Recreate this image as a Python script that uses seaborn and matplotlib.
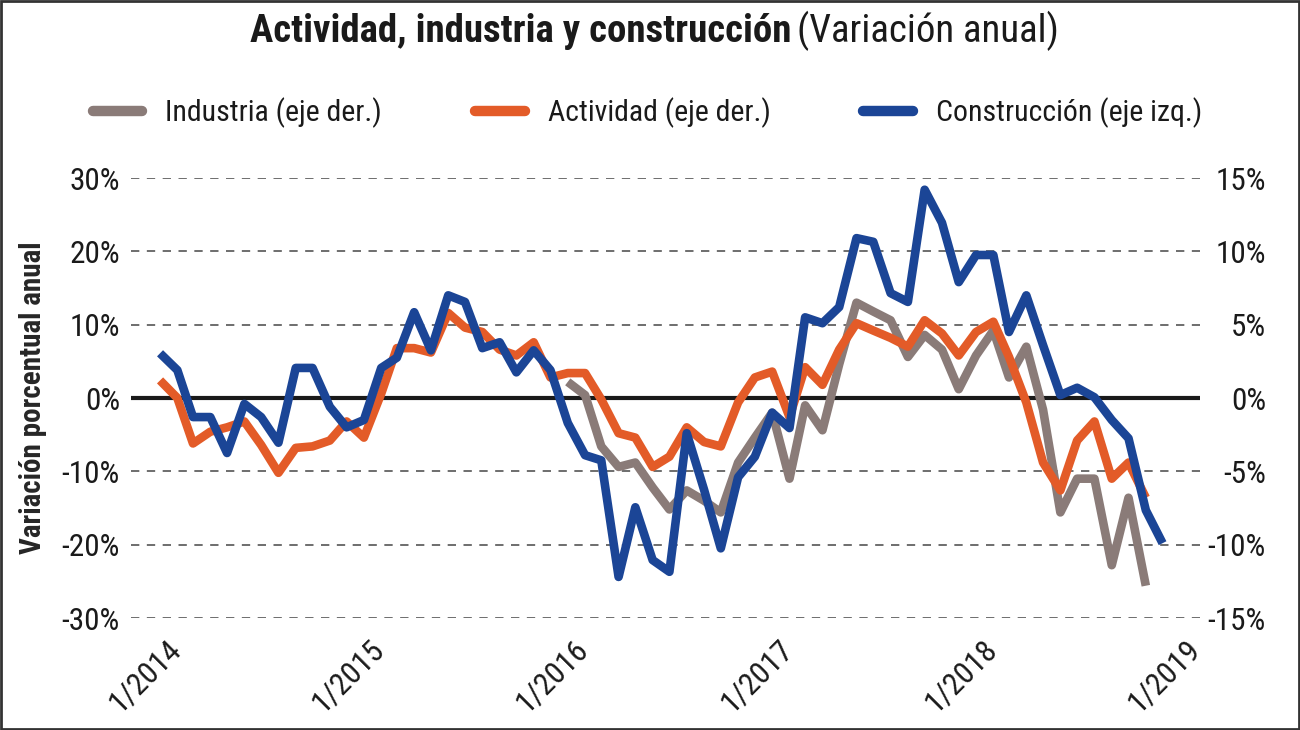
import numpy as np
import pandas as pd
import matplotlib
matplotlib.use("Agg")
import matplotlib.pyplot as plt
import matplotlib.font_manager as fm
from matplotlib.transforms import ScaledTranslation
import seaborn as sns

# ---------------- data ----------------
fechas = pd.date_range("2014-01-01", periods=60, freq="MS")

# Construcción (eje izq., %), Jan 2014 - Dec 2018
construccion = [6.1, 3.8, -2.6, -2.6, -7.5, -0.8, -2.6, -6.1, 4.1, 4.1, -1.2, -4.0,
                -3.0, 4.1, 5.5, 11.7, 6.5, 14.0, 13.1, 6.8, 7.6, 3.5, 6.5, 3.8,
                -3.4, -7.8, -8.5, -24.4, -14.9, -22.1, -23.7, -4.8, -12.5, -20.5, -10.8, -8.0,
                -2.0, -4.1, 11.0, 10.2, 12.4, 21.8, 21.3, 14.3, 13.1, 28.4, 23.9, 15.8,
                19.5, 19.5, 9.0, 14.0, 7.2, 0.4, 1.4, 0.1, -3.0, -5.5, -15.3, -19.8]

# Actividad (eje der., %), Jan 2014 - Nov 2018
actividad = [1.2, 0.0, -3.1, -2.3, -2.0, -1.6, -3.2, -5.1, -3.4, -3.3, -2.9, -1.6,
             -2.7, 0.3, 3.4, 3.4, 3.1, 5.8, 4.8, 4.5, 3.3, 2.9, 3.8, 1.4,
             1.7, 1.7, -0.1, -2.4, -2.7, -4.7, -4.0, -2.0, -3.0, -3.3, -0.3, 1.4,
             1.8, -1.3, 2.1, 0.9, 3.3, 5.1, 4.6, 4.1, 3.5, 5.3, 4.4, 2.9,
             4.5, 5.2, 2.8, -0.3, -4.4, -6.3, -2.9, -1.6, -5.5, -4.4, -6.8]

# Industria (eje der., %), Jan 2016 - Nov 2018
industria = [1.1, 0.2, -3.3, -4.7, -4.4, -6.1, -7.6, -6.3, -7.0, -7.8, -4.4, -2.7,
             -1.0, -5.5, -0.5, -2.2, 2.3, 6.5, 5.9, 5.3, 2.8, 4.3, 3.3, 0.6,
             2.9, 4.6, 1.4, 3.5, -0.8, -7.8, -5.5, -5.5, -11.4, -6.8, -12.8]

ticks_izq = [-30, -20, -10, 0, 10, 20, 30]
ticks_der = [-15, -10, -5, 0, 5, 10, 15]
anios = [2014, 2015, 2016, 2017, 2018, 2019]

df_c = pd.DataFrame({"fecha": fechas, "valor": construccion})
df_a = pd.DataFrame({"fecha": fechas[:len(actividad)], "valor": actividad})
df_i = pd.DataFrame({"fecha": fechas[24:24 + len(industria)], "valor": industria})

# ---------------- style ----------------
sns.set_style("white")
names = {f.name for f in fm.fontManager.ttflist}
fam = None
for cand in ["Liberation Sans Narrow", "Roboto Condensed", "Open Sans Condensed"]:
    if cand in names:
        fam = cand
        break
if fam is None:
    fam = "Liberation Sans" if "Liberation Sans" in names else "DejaVu Sans"
plt.rcParams["font.family"] = [fam, "DejaVu Sans"]
TXT = "#1a1a1a"
plt.rcParams["text.color"] = TXT
plt.rcParams["xtick.color"] = TXT
plt.rcParams["ytick.color"] = TXT

C_GRAY = "#8a7b78"
C_ORANGE = "#e35b28"
C_BLUE = "#1b4596"

W, H = 1300, 730
fig = plt.figure(figsize=(13, 7.3), dpi=100)
fig.patch.set_facecolor("white")
ax = fig.add_axes([131 / W, 1 - 618 / H, (1200 - 131) / W, (618 - 178) / H])
ax2 = ax.twinx()
ax.set_zorder(2)
ax2.set_zorder(1)
ax.patch.set_visible(False)
ax2.patch.set_visible(False)

lw = 6.2
kw = dict(solid_joinstyle="round", solid_capstyle="butt")
sns.lineplot(data=df_i, x="fecha", y="valor", ax=ax2, color=C_GRAY, lw=lw,
             label="Industria (eje der.)", **kw)
sns.lineplot(data=df_a, x="fecha", y="valor", ax=ax2, color=C_ORANGE, lw=lw,
             label="Actividad (eje der.)", **kw)
sns.lineplot(data=df_c, x="fecha", y="valor", ax=ax, color=C_BLUE, lw=lw,
             label="Construcción (eje izq.)", **kw)

h2, l2 = ax2.get_legend_handles_labels()
h1, l1 = ax.get_legend_handles_labels()
for a in (ax, ax2):
    if a.get_legend() is not None:
        a.get_legend().remove()

# axes limits
x0 = pd.Timestamp("2014-01-01") - pd.Timedelta(days=52)
x1 = pd.Timestamp("2019-01-01") + pd.Timedelta(days=36)
ax.set_xlim(x0, x1)
ax.set_ylim(-30, 30)
ax2.set_ylim(-15, 15)

# grid + zero line on the back axis
ax2.set_yticks(ticks_der)
ax2.yaxis.grid(True, linestyle=(0, (5, 4.5)), color="#555555", lw=1.2)
ax2.axhline(0, color=TXT, lw=3.0, zorder=1.5)
ax.grid(False)
ax2.xaxis.grid(False)

for a in (ax, ax2):
    for s in a.spines.values():
        s.set_visible(False)
    a.set_xlabel("")
    a.set_ylabel("")

ax.set_yticks(ticks_izq)
ax.set_yticklabels([f"{t}%" for t in ticks_izq])
ax2.set_yticklabels([f"{t}%" for t in ticks_der])
ax.tick_params(axis="y", length=0, pad=8, labelsize=22.5)
ax2.tick_params(axis="y", length=0, pad=47.5, labelsize=22.5)
for t in ax2.get_yticklabels():
    t.set_ha("right")

ax.set_xticks([pd.Timestamp(f"{y}-01-01") for y in anios])
ax.set_xticklabels([f"1/{y}" for y in anios])
ax.tick_params(axis="x", length=0, pad=19, labelsize=22.5)
off = ScaledTranslation(16 / 100, 0, fig.dpi_scale_trans)
for t in ax.get_xticklabels():
    t.set_rotation(45)
    t.set_ha("right")
    t.set_va("center")
    t.set_rotation_mode("anchor")
    t.set_transform(t.get_transform() + off)

ax.set_ylabel("Variación porcentual anual", fontsize=21, fontweight="semibold")
ax.yaxis.set_label_coords((47 - 131) / (1200 - 131), 0.5)

# title
yb = 1 - 42 / H
fig.text(791 / W, yb, "Actividad, industria y construcción", ha="right", va="baseline",
         fontsize=28, fontweight="bold")
fig.text(797 / W, yb, "(Variación anual)", ha="left", va="baseline", fontsize=28)

# legend
leg = fig.legend(h2 + h1, l2 + l1, loc="center", bbox_to_anchor=(0.498, 1 - 113 / H),
                 ncol=3, frameon=False, fontsize=21.5, handlelength=1.67,
                 handletextpad=0.77, columnspacing=3.1)
for lh in leg.legend_handles:
    lh.set_linewidth(7.5)
    lh.set_solid_capstyle("round")

# figure border
fig.patches.append(plt.Rectangle((0.001, 0.001), 0.998, 0.997, transform=fig.transFigure,
                                 fill=False, edgecolor="#333333", lw=2))

fig.savefig("out.png", dpi=100, facecolor="white")
